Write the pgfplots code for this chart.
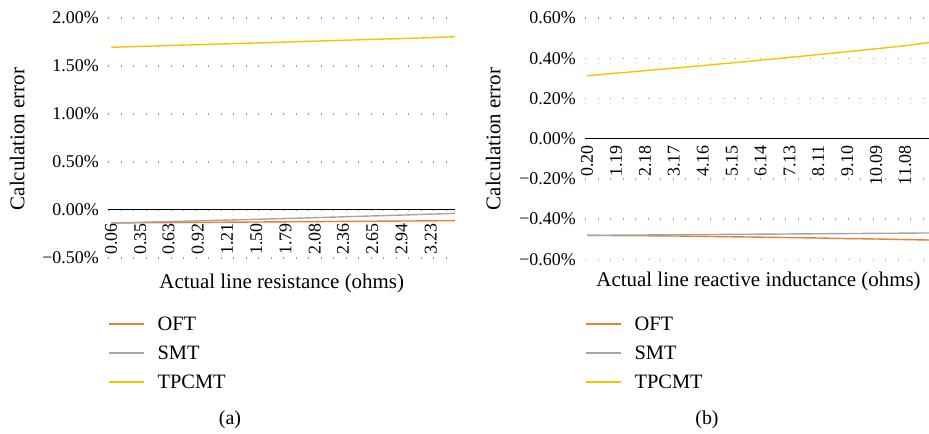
\documentclass[border=0pt]{standalone}
\usepackage{fontspec}
\setmainfont{Liberation Serif}
\usepackage{pgfplots}
\pgfplotsset{compat=1.18}

\definecolor{oft}{HTML}{ED7D31}
\definecolor{smt}{HTML}{A5A5A5}
\definecolor{tpcmt}{HTML}{FFC000}

\pgfplotsset{
  errchart/.style={
    scale only axis,
    axis x line*=middle,
    axis y line*=left,
    hide obscured x ticks=false,
    hide obscured y ticks=false,
    y axis line style={draw=none},
    x axis line style={black, line width=1bp},
    major tick length=0pt,
    ymajorgrids,
    grid style={gray!75, line width=1.3bp, dash pattern=on 1.3bp off 11.2bp},
    tick label style={font=\fontsize{18}{20}\selectfont},
    yticklabel style={inner sep=0pt, xshift=-9bp},
    xticklabel style={rotate=90, anchor=east, inner sep=0pt},
    legend cell align=left,
    legend image code/.code={\draw[#1, line width=1.4bp] (0bp,0bp) -- (35bp,0bp);},
    legend style={fill=none, at={(0,0)}, anchor=north west,
      font=\fontsize{20.5}{22}\selectfont, inner sep=0pt,
      row sep=15bp, column sep=13bp,
      nodes={inner sep=0pt, text height=14bp, text depth=0pt}},
    every axis legend/.append style={draw=none},
    every axis plot/.append style={line width=1.4bp},
  }
}

\begin{document}
\begin{tikzpicture}
\useasboundingbox (0,0) rectangle (929bp,434bp);

% (a) line resistance
\begin{axis}[
  errchart,
  at={(108bp,176bp)}, anchor=south west,
  width=347bp, height=240bp,
  xmin=0.03, xmax=3.47,
  ymin=-0.5, ymax=2.0,
  ytick={-0.5,0,0.5,1,1.5,2},
  yticklabels={−0.50\%,0.00\%,0.50\%,1.00\%,1.50\%,2.00\%},
  xtick={0.06,0.35,0.63,0.92,1.21,1.50,1.79,2.08,2.36,2.65,2.94,3.23},
  xticklabels={0.06,0.35,0.63,0.92,1.21,1.50,1.79,2.08,2.36,2.65,2.94,3.23},
  xticklabel shift=13bp,
  legend style={yshift=-58.7bp},
]
\addplot[color=oft] coordinates {
  (0.06,-0.135) (0.35,-0.133) (0.63,-0.131) (0.92,-0.129) (1.21,-0.127)
  (1.50,-0.125) (1.79,-0.123) (2.08,-0.121) (2.36,-0.119) (2.65,-0.117)
  (2.94,-0.115) (3.23,-0.113) (3.47,-0.111)};
\addplot[color=smt] coordinates {
  (0.06,-0.135) (0.35,-0.128) (0.63,-0.121) (0.92,-0.113) (1.21,-0.105)
  (1.50,-0.097) (1.79,-0.089) (2.08,-0.080) (2.36,-0.071) (2.65,-0.062)
  (2.94,-0.053) (3.23,-0.043) (3.47,-0.035)};
\addplot[color=tpcmt] coordinates {
  (0.06,1.695) (0.35,1.704) (0.63,1.713) (0.92,1.722) (1.21,1.731)
  (1.50,1.740) (1.79,1.749) (2.08,1.759) (2.36,1.768) (2.65,1.777)
  (2.94,1.786) (3.23,1.795) (3.47,1.805)};
\legend{OFT,SMT,TPCMT}
\end{axis}

% (b) line reactive inductance
\begin{axis}[
  errchart,
  at={(585bp,174.7bp)}, anchor=south west,
  width=344bp, height=241.3bp,
  xmin=0.13, xmax=11.9,
  ymin=-0.6, ymax=0.6,
  ytick={-0.6,-0.4,-0.2,0,0.2,0.4,0.6},
  yticklabels={−0.60\%,−0.40\%,−0.20\%,0.00\%,0.20\%,0.40\%,0.60\%},
  xtick={0.20,1.19,2.18,3.17,4.16,5.15,6.14,7.13,8.11,9.10,10.09,11.08},
  xticklabels={0.20,1.19,2.18,3.17,4.16,5.15,6.14,7.13,8.11,9.10,10.09,11.08},
  xticklabel shift=6.7bp,
  legend style={yshift=-57.4bp},
]
\addplot[color=oft] coordinates {
  (0.20,-0.481) (1.19,-0.482) (2.18,-0.483) (3.17,-0.484) (4.16,-0.486)
  (5.15,-0.488) (6.14,-0.490) (7.13,-0.492) (8.11,-0.494) (9.10,-0.497)
  (10.09,-0.499) (11.08,-0.502) (11.9,-0.504)};
\addplot[color=smt] coordinates {
  (0.20,-0.481) (1.19,-0.480) (2.18,-0.479) (3.17,-0.478) (4.16,-0.477)
  (5.15,-0.476) (6.14,-0.475) (7.13,-0.474) (8.11,-0.473) (9.10,-0.472)
  (10.09,-0.471) (11.08,-0.470) (11.9,-0.469)};
\addplot[color=tpcmt] coordinates {
  (0.20,0.313) (1.19,0.3255) (2.18,0.338) (3.17,0.3505) (4.16,0.3635)
  (5.15,0.3765) (6.14,0.390) (7.13,0.404) (8.11,0.418) (9.10,0.4325)
  (10.09,0.447) (11.08,0.462) (11.9,0.478)};
\legend{OFT,SMT,TPCMT}
\end{axis}

\node[rotate=90, font=\fontsize{21}{24}\selectfont] at (17.2bp,295bp) {Calculation error};
\node[rotate=90, font=\fontsize{21}{24}\selectfont] at (493.3bp,295bp) {Calculation error};
\node[font=\fontsize{21}{24}\selectfont] at (281.7bp,151bp) {Actual line resistance (ohms)};
\node[font=\fontsize{21}{24}\selectfont] at (758.5bp,152.3bp) {Actual line reactive inductance (ohms)};
\node[font=\fontsize{20}{22}\selectfont] at (230bp,14bp) {(a)};
\node[font=\fontsize{20}{22}\selectfont] at (707bp,14bp) {(b)};
\end{tikzpicture}
\end{document}
